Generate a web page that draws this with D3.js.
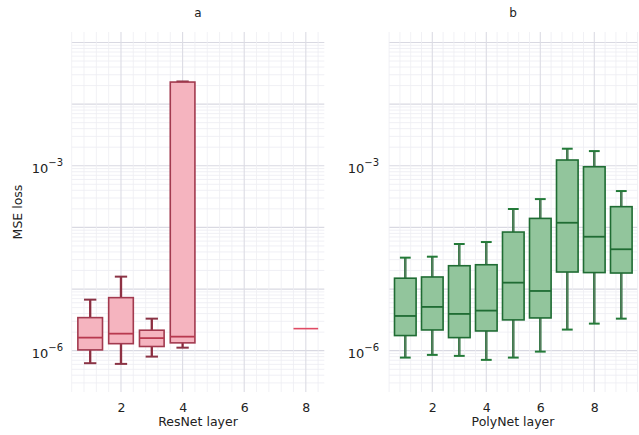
<!DOCTYPE html>
<html><head><meta charset="utf-8">
<script src="https://cdn.jsdelivr.net/npm/d3@7"></script>
<style>body{margin:0;background:#fff}svg{display:block}text{font-family:"DejaVu Sans",sans-serif;fill:#222}</style>
</head><body><svg id="c" width="639" height="435"></svg>
<script>
// ResNet (panel a)
const resnetLayers = [1, 2, 3, 4, 8];
const resnetLower  = [6.27e-7, 6.11e-7, 8.02e-7, 1.12e-6, 2.28e-6];
const resnetQ1     = [1.03e-6, 1.30e-6, 1.17e-6, 1.34e-6, 2.28e-6];
const resnetMedian = [1.63e-6, 1.89e-6, 1.60e-6, 1.69e-6, 2.28e-6];
const resnetQ3     = [3.44e-6, 7.26e-6, 2.15e-6, 2.28e-2, 2.28e-6];
const resnetUpper  = [6.73e-6, 1.59e-5, 3.31e-6, 2.33e-2, 2.28e-6];
// PolyNet (panel b)
const polyLayers = [1, 2, 3, 4, 5, 6, 7, 8, 9];
const polyLower  = [7.73e-7, 8.55e-7, 8.24e-7, 7.10e-7, 7.73e-7, 9.66e-7, 2.20e-6, 2.75e-6, 3.31e-6];
const polyQ1     = [1.76e-6, 2.17e-6, 1.63e-6, 2.09e-6, 3.16e-6, 3.40e-6, 1.89e-5, 1.85e-5, 1.82e-5];
const polyMedian = [3.66e-6, 5.13e-6, 3.95e-6, 4.47e-6, 1.27e-5, 9.31e-6, 1.19e-4, 7.06e-5, 4.42e-5];
const polyQ3     = [1.50e-5, 1.57e-5, 2.39e-5, 2.48e-5, 8.41e-5, 1.40e-4, 1.24e-3, 9.64e-4, 2.17e-4];
const polyUpper  = [3.23e-5, 3.35e-5, 5.38e-5, 5.79e-5, 1.99e-4, 2.88e-4, 1.89e-3, 1.73e-3, 3.89e-4];
const xTicks = [2, 4, 6, 8];
const yTickExps = [-3, -6];

const svg = d3.select("#c");
const plotTop = 32, plotBottom = 392;
const y = d3.scaleLog().domain([Math.pow(10, -6.67), Math.pow(10, -0.83)]).range([plotBottom, plotTop]);

function panel(opts) {
  const x = d3.scaleLinear().domain(opts.xDomain).range(opts.xRange);
  const g = svg.append("g");
  const [x0, x1] = opts.xRange;
  // horizontal grid
  for (let e = -7; e <= 0; e++) {
    for (let m = 1; m <= 9; m++) {
      const v = m * Math.pow(10, e);
      const py = y(v);
      if (py < plotTop - 0.5 || py > plotBottom + 0.5) continue;
      g.append("line").attr("x1", x0).attr("x2", x1).attr("y1", py).attr("y2", py)
        .attr("stroke", m === 1 ? "#d9d9e2" : "#ececf2").attr("stroke-width", m === 1 ? 1.2 : 0.8);
    }
  }
  // vertical grid
  for (let v = opts.xDomain[0]; v <= opts.xDomain[1] + 1e-6; v += 0.4) {
    const major = Math.abs(v / 2 - Math.round(v / 2)) < 1e-6;
    const px = x(v);
    g.append("line").attr("x1", px).attr("x2", px).attr("y1", plotTop).attr("y2", plotBottom)
      .attr("stroke", major ? "#dcdce4" : "#ededf2").attr("stroke-width", major ? 1.1 : 0.8);
  }
  // axes ticks
  g.append("g").attr("transform", `translate(0,${plotBottom})`)
    .call(d3.axisBottom(x).tickValues(xTicks).tickSize(0).tickPadding(11))
    .call(a => { a.select(".domain").remove(); a.selectAll("text").attr("font-size", 12.5).attr("fill", "#222").attr("font-family", "DejaVu Sans"); });
  yTickExps.forEach(e => {
    const t = g.append("text").attr("x", opts.yLabelX).attr("y", y(Math.pow(10, e)) + 7)
      .attr("text-anchor", "end").attr("font-size", 13);
    t.append("tspan").text("10");
    t.append("tspan").attr("dy", -7).attr("font-size", 10).text("\u2212" + (-e));
  });
  // boxes
  const bw = x(0.8) - x(0);
  const d = opts.layers.map((l, i) => ({l, lo: opts.lower[i], q1: opts.q1[i], med: opts.median[i], q3: opts.q3[i], hi: opts.upper[i]}));
  d.forEach(b => {
    const cx = x(b.l);
    if (b.q1 === b.q3 && b.lo === b.hi) {
      g.append("line").attr("x1", cx - bw / 2).attr("x2", cx + bw / 2)
        .attr("y1", y(b.med)).attr("y2", y(b.med)).attr("stroke", opts.medianSingle).attr("stroke-width", 1.6);
      return;
    }
    [[b.q3, b.hi], [b.q1, b.lo]].forEach(([a, c]) => {
      g.append("line").attr("x1", cx).attr("x2", cx).attr("y1", y(a)).attr("y2", y(c))
        .attr("stroke", opts.stroke).attr("stroke-width", 2.4);
      g.append("line").attr("x1", cx).attr("x2", cx).attr("y1", y(a)).attr("y2", y(c))
        .attr("stroke", opts.whiskerCore).attr("stroke-width", 1);
      g.append("line").attr("x1", cx - bw / 4).attr("x2", cx + bw / 4).attr("y1", y(c)).attr("y2", y(c))
        .attr("stroke", opts.cap).attr("stroke-width", 2);
    });
    g.append("rect").attr("x", cx - bw / 2).attr("width", bw)
      .attr("y", y(b.q3)).attr("height", y(b.q1) - y(b.q3))
      .attr("fill", opts.fill).attr("stroke", opts.stroke).attr("stroke-width", 1.6);
    g.append("line").attr("x1", cx - bw / 2).attr("x2", cx + bw / 2).attr("y1", y(b.med)).attr("y2", y(b.med))
      .attr("stroke", opts.medianColor).attr("stroke-width", 1.8);
  });
  // titles
  g.append("text").attr("x", opts.titleX).attr("y", 17).attr("text-anchor", "middle").attr("font-size", 12).text(opts.title);
  g.append("text").attr("x", opts.titleX).attr("y", 426).attr("text-anchor", "middle").attr("font-size", 12.5).text(opts.xLabel);
}

panel({
  xDomain: [0.4, 8.6], xRange: [71.7, 324.3], layers: resnetLayers,
  lower: resnetLower, q1: resnetQ1, median: resnetMedian, q3: resnetQ3, upper: resnetUpper,
  fill: "#f5b4bf", stroke: "#a23a4f", whiskerCore: "#7a2a3a", cap: "#8a3345", medianColor: "#b8394f", medianSingle: "#e04a64",
  yLabelX: 63, title: "a", titleX: 198, xLabel: "ResNet layer"
});
panel({
  xDomain: [0.4, 9.6], xRange: [389.1, 637.5], layers: polyLayers,
  lower: polyLower, q1: polyQ1, median: polyMedian, q3: polyQ3, upper: polyUpper,
  fill: "#92c59c", stroke: "#1f6c33", whiskerCore: "#66806a", cap: "#237a38", medianColor: "#1f6c33", medianSingle: "#1f6c33",
  yLabelX: 379, title: "b", titleX: 513, xLabel: "PolyNet layer"
});
svg.append("text").attr("transform", "translate(22,212) rotate(-90)").attr("text-anchor", "middle")
  .attr("font-size", 12.5).text("MSE loss");
</script></body></html>
